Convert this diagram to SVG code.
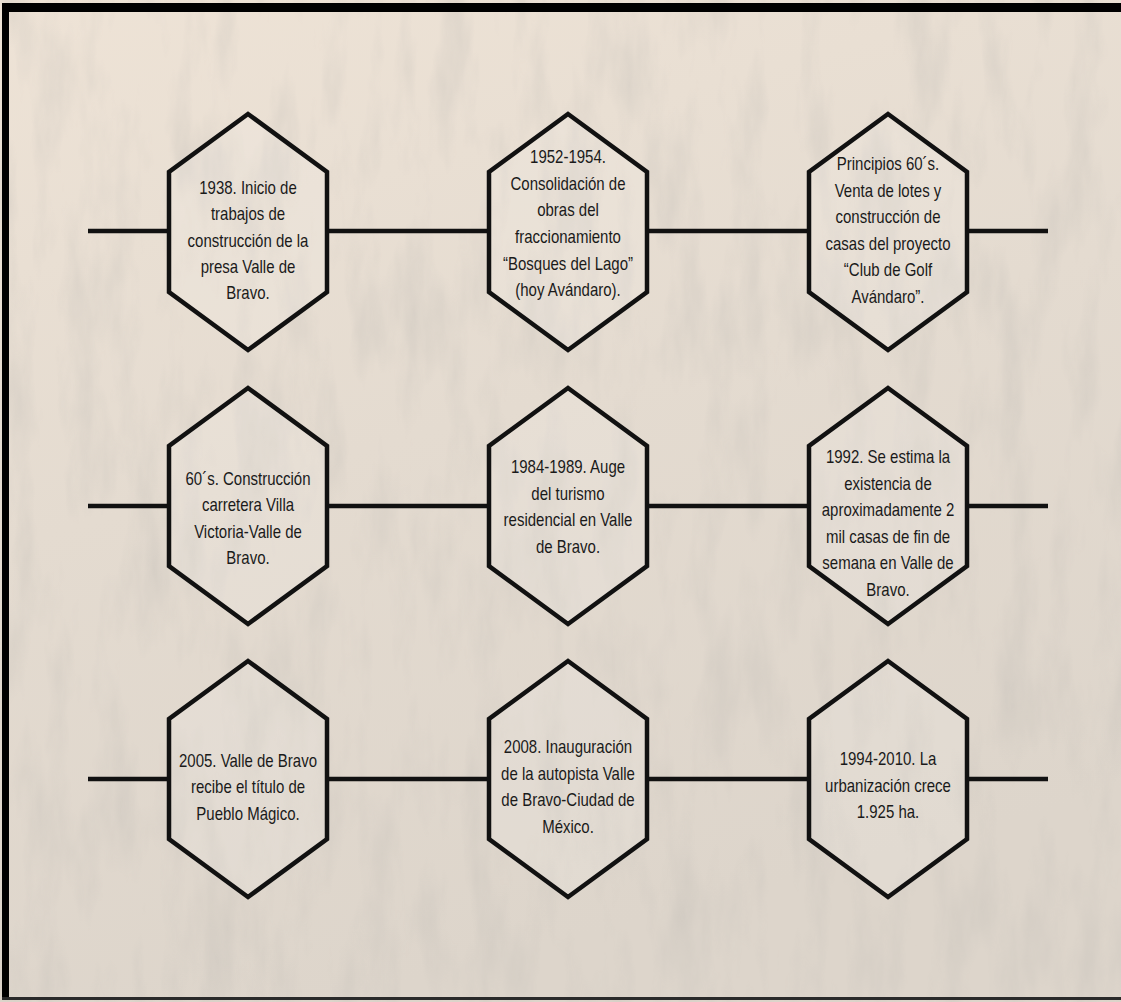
<svg xmlns="http://www.w3.org/2000/svg" width="1121" height="1002" viewBox="0 0 1121 1002">
  <defs>
    <linearGradient id="paper" x1="0" y1="0" x2="0.3" y2="1">
      <stop offset="0" stop-color="#eee3d6"/>
      <stop offset="0.5" stop-color="#e4dbd0"/>
      <stop offset="1" stop-color="#ddd5cb"/>
    </linearGradient>
    <filter id="grain" x="0" y="0" width="100%" height="100%">
      <feTurbulence type="fractalNoise" baseFrequency="0.03 0.008" numOctaves="4" seed="7" result="n"/>
      <feColorMatrix in="n" type="matrix" values="0 0 0 0 0.55  0 0 0 0 0.52  0 0 0 0 0.48  0 0 0 1.6 -0.72"/>
    </filter>
    <style>
      .hex { fill: #ffffff; fill-opacity: 0.12; stroke: #111; stroke-width: 4.5; stroke-linejoin: miter; }
      .link { stroke: #111; stroke-width: 4.5; fill: none; }
      .lbl { font-family: "Liberation Sans", Arial, sans-serif; font-size: 15px; fill: #1a1a1a; text-anchor: middle; }
    </style>
  </defs>

  <!-- paper background -->
  <rect x="0" y="0" width="1121" height="1002" fill="url(#paper)"/>
  <rect x="0" y="0" width="1121" height="1002" filter="url(#grain)" opacity="0.5"/>

  <!-- frame -->
  <rect x="2" y="3" width="1125" height="9" rx="3" fill="#000"/>
  <rect x="2" y="3" width="7" height="997" fill="#000"/>
  <rect x="2" y="997" width="1125" height="3" fill="#2a2a2a"/>

  <!-- connectors -->
  <g id="connectors">
    <line class="link" x1="88" y1="231" x2="169" y2="231"/>
    <line class="link" x1="327" y1="231" x2="489" y2="231"/>
    <line class="link" x1="647" y1="231" x2="809" y2="231"/>
    <line class="link" x1="967" y1="231" x2="1048" y2="231"/>

    <line class="link" x1="88" y1="506" x2="169" y2="506"/>
    <line class="link" x1="327" y1="506" x2="489" y2="506"/>
    <line class="link" x1="647" y1="506" x2="809" y2="506"/>
    <line class="link" x1="967" y1="506" x2="1048" y2="506"/>

    <line class="link" x1="88" y1="779" x2="169" y2="779"/>
    <line class="link" x1="327" y1="779" x2="489" y2="779"/>
    <line class="link" x1="647" y1="779" x2="809" y2="779"/>
    <line class="link" x1="967" y1="779" x2="1048" y2="779"/>
  </g>

  <!-- row 1 -->
  <g id="n1938">
    <polygon class="hex" points="248,114 327,172 327,292 248,350 169,292 169,172"/>
    <text class="lbl" transform="matrix(1 0 0 1.18 248 194)">1938. Inicio de</text>
    <text class="lbl" transform="matrix(1 0 0 1.18 248 220)">trabajos de</text>
    <text class="lbl" transform="matrix(1 0 0 1.18 248 247)">construcción de la</text>
    <text class="lbl" transform="matrix(1 0 0 1.18 248 273)">presa Valle de</text>
    <text class="lbl" transform="matrix(1 0 0 1.18 248 299)">Bravo.</text>
  </g>
  <g id="n1952">
    <polygon class="hex" points="568,114 647,172 647,292 568,350 489,292 489,172"/>
    <text class="lbl" transform="matrix(1 0 0 1.18 568 163)">1952-1954.</text>
    <text class="lbl" transform="matrix(1 0 0 1.18 568 190)">Consolidación de</text>
    <text class="lbl" transform="matrix(1 0 0 1.18 568 216)">obras del</text>
    <text class="lbl" transform="matrix(1 0 0 1.18 568 243)">fraccionamiento</text>
    <text class="lbl" transform="matrix(1 0 0 1.18 568 270)">“Bosques del Lago”</text>
    <text class="lbl" transform="matrix(1 0 0 1.18 568 296)">(hoy Avándaro).</text>
  </g>
  <g id="n60s-golf">
    <polygon class="hex" points="888,114 967,172 967,292 888,350 809,292 809,172"/>
    <text class="lbl" transform="matrix(1 0 0 1.18 888 170)">Principios 60´s.</text>
    <text class="lbl" transform="matrix(1 0 0 1.18 888 197)">Venta de lotes y</text>
    <text class="lbl" transform="matrix(1 0 0 1.18 888 223)">construcción de</text>
    <text class="lbl" transform="matrix(1 0 0 1.18 888 250)">casas del proyecto</text>
    <text class="lbl" transform="matrix(1 0 0 1.18 888 276)">“Club de Golf</text>
    <text class="lbl" transform="matrix(1 0 0 1.18 888 303)">Avándaro”.</text>
  </g>

  <!-- row 2 -->
  <g id="n60s-road">
    <polygon class="hex" points="248,388 327,446 327,566 248,624 169,566 169,446"/>
    <text class="lbl" transform="matrix(1 0 0 1.18 248 485)">60´s. Construcción</text>
    <text class="lbl" transform="matrix(1 0 0 1.18 248 511)">carretera Villa</text>
    <text class="lbl" transform="matrix(1 0 0 1.18 248 538)">Victoria-Valle de</text>
    <text class="lbl" transform="matrix(1 0 0 1.18 248 564)">Bravo.</text>
  </g>
  <g id="n1984">
    <polygon class="hex" points="568,388 647,446 647,566 568,624 489,566 489,446"/>
    <text class="lbl" transform="matrix(1 0 0 1.18 568 473)">1984-1989. Auge</text>
    <text class="lbl" transform="matrix(1 0 0 1.18 568 500)">del turismo</text>
    <text class="lbl" transform="matrix(1 0 0 1.18 568 526)">residencial en Valle</text>
    <text class="lbl" transform="matrix(1 0 0 1.18 568 553)">de Bravo.</text>
  </g>
  <g id="n1992">
    <polygon class="hex" points="888,388 967,446 967,566 888,624 809,566 809,446"/>
    <text class="lbl" transform="matrix(1 0 0 1.18 888 463)">1992. Se estima la</text>
    <text class="lbl" transform="matrix(1 0 0 1.18 888 490)">existencia de</text>
    <text class="lbl" transform="matrix(1 0 0 1.18 888 516)">aproximadamente 2</text>
    <text class="lbl" transform="matrix(1 0 0 1.18 888 543)">mil casas de fin de</text>
    <text class="lbl" transform="matrix(1 0 0 1.18 888 569)">semana en Valle de</text>
    <text class="lbl" transform="matrix(1 0 0 1.18 888 596)">Bravo.</text>
  </g>

  <!-- row 3 -->
  <g id="n2005">
    <polygon class="hex" points="248,661 327,719 327,839 248,897 169,839 169,719"/>
    <text class="lbl" transform="matrix(1 0 0 1.18 248 767)">2005. Valle de Bravo</text>
    <text class="lbl" transform="matrix(1 0 0 1.18 248 793)">recibe el título de</text>
    <text class="lbl" transform="matrix(1 0 0 1.18 248 820)">Pueblo Mágico.</text>
  </g>
  <g id="n2008">
    <polygon class="hex" points="568,661 647,719 647,839 568,897 489,839 489,719"/>
    <text class="lbl" transform="matrix(1 0 0 1.18 568 753)">2008. Inauguración</text>
    <text class="lbl" transform="matrix(1 0 0 1.18 568 780)">de la autopista Valle</text>
    <text class="lbl" transform="matrix(1 0 0 1.18 568 806)">de Bravo-Ciudad de</text>
    <text class="lbl" transform="matrix(1 0 0 1.18 568 833)">México.</text>
  </g>
  <g id="n1994">
    <polygon class="hex" points="888,661 967,719 967,839 888,897 809,839 809,719"/>
    <text class="lbl" transform="matrix(1 0 0 1.18 888 765)">1994-2010. La</text>
    <text class="lbl" transform="matrix(1 0 0 1.18 888 792)">urbanización crece</text>
    <text class="lbl" transform="matrix(1 0 0 1.18 888 818)">1.925 ha.</text>
  </g>
</svg>
